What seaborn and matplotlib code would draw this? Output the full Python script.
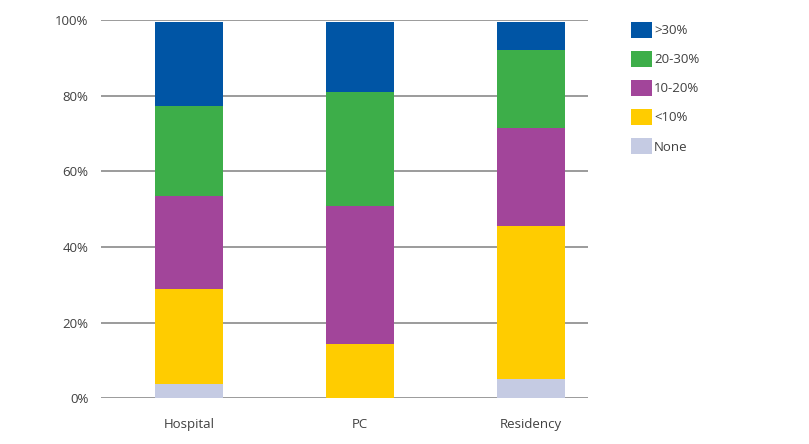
import matplotlib
matplotlib.use("Agg")
import matplotlib.pyplot as plt
from matplotlib.patches import Patch
from matplotlib.ticker import FuncFormatter
import seaborn as sns
import pandas as pd
import numpy as np

categories = ["Hospital", "PC", "Residency"]
series_names = ["None", "<10%", "10-20%", "20-30%", ">30%"]
none_vals = [3.9, 0.0, 5.1]
lt10_vals = [25.0, 14.4, 40.6]
v10_20 = [24.6, 36.6, 25.9]
v20_30 = [23.8, 30.1, 20.5]
gt30_vals = [22.2, 18.4, 7.4]
ytick_vals = [0, 20, 40, 60, 80, 100]

colors = {"None": "#C5CBE3", "<10%": "#FFCC00", "10-20%": "#A2459A",
          "20-30%": "#3DAE49", ">30%": "#0055A5"}

sns.set_theme(style="white")
plt.rcParams["font.family"] = ["Open Sans", "DejaVu Sans"]
text_color = "#404040"

series = [none_vals, lt10_vals, v10_20, v20_30, gt30_vals]
cum = np.cumsum(np.array(series), axis=0)

fig = plt.figure(figsize=(8.09, 4.44), dpi=100)
ax = fig.add_axes([101/809, 1 - 398.3/444, (588 - 101)/809, (398.3 - 20.3)/444])

# draw from top of stack down so lower segments overlay
for i in range(len(series_names) - 1, -1, -1):
    df = pd.DataFrame({"cat": categories, "val": cum[i]})
    sns.barplot(data=df, x="cat", y="val", color=colors[series_names[i]],
                width=0.4, saturation=1, ax=ax, errorbar=None, zorder=3,
                linewidth=0)

ax.set_xlim(-0.515, 2.333)
ax.set_ylim(0, 100)
ax.set_yticks(ytick_vals)
ax.yaxis.set_major_formatter(FuncFormatter(lambda v, p: f"{int(v)}%"))
ax.grid(axis="y", color="#808080", linewidth=1.1, zorder=0)
ax.set_axisbelow(True)
for s in ax.spines.values():
    s.set_visible(False)
ax.set_xlabel("")
ax.set_ylabel("")
ax.tick_params(axis="y", length=0, pad=9, labelsize=9.5, labelcolor=text_color)
ax.tick_params(axis="x", length=0, pad=14, labelsize=9.5, labelcolor=text_color)

handles = [Patch(facecolor=colors[n], edgecolor="none", label=n)
           for n in reversed(series_names)]
fig.legend(handles=handles, loc="upper left",
           bbox_to_anchor=(631/809, 1 - 22/444), bbox_transform=fig.transFigure,
           frameon=False, fontsize=9.5, labelcolor=text_color,
           handlelength=1.6, handleheight=1.5, handletextpad=0.15,
           labelspacing=0.98, borderpad=0, borderaxespad=0)

fig.savefig("out.png", dpi=100)
